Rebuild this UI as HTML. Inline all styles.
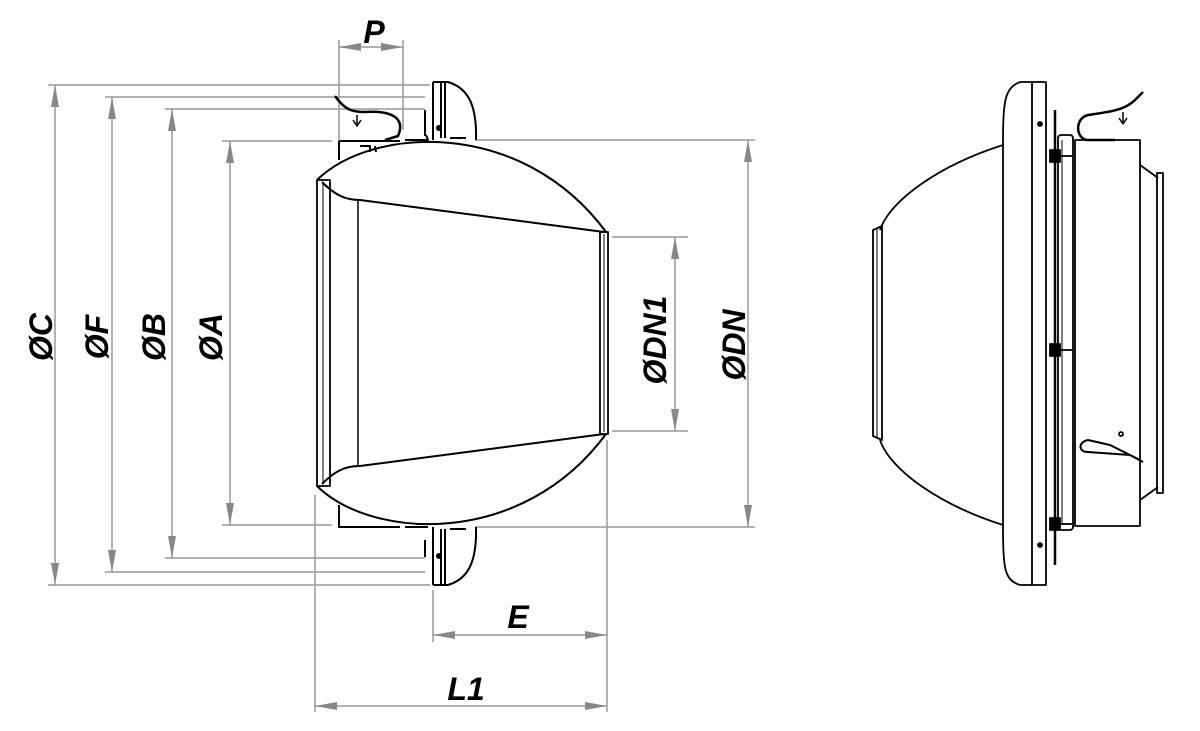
<!DOCTYPE html>
<html><head><meta charset="utf-8"><style>
html,body{margin:0;padding:0;background:#fff;width:1200px;height:731px;overflow:hidden}
svg{display:block}
text{font-family:"Liberation Sans",sans-serif;font-style:italic;font-weight:bold;fill:#000}
</style></head><body>
<svg width="1200" height="731" viewBox="0 0 1200 731" xmlns="http://www.w3.org/2000/svg">
<defs>
<marker id="a" viewBox="0 0 22 8" refX="22" refY="4" markerWidth="22" markerHeight="8" markerUnits="userSpaceOnUse" orient="auto-start-reverse"><path d="M0,0 L22,4 L0,8 Z" fill="#888"/></marker>
</defs>
<g stroke="#999" stroke-width="1.5" fill="none">
<line x1="48" y1="85" x2="430" y2="85"/><line x1="48" y1="585" x2="430" y2="585"/>
<line x1="105" y1="97" x2="425" y2="97"/><line x1="105" y1="572" x2="425" y2="572"/>
<line x1="165" y1="109" x2="425" y2="109"/><line x1="165" y1="558" x2="425" y2="558"/>
<line x1="222" y1="141" x2="332" y2="141"/><line x1="222" y1="525" x2="332" y2="525"/>
<line x1="475" y1="140" x2="755" y2="140"/><line x1="475" y1="527" x2="755" y2="527"/>
<line x1="612" y1="237" x2="688" y2="237"/><line x1="612" y1="431" x2="688" y2="431"/>
<line x1="339" y1="40" x2="339" y2="142"/><line x1="403" y1="40" x2="403" y2="130"/>
<line x1="315" y1="495" x2="315" y2="712"/><line x1="607" y1="440" x2="607" y2="712"/>
<line x1="433" y1="590" x2="433" y2="642"/>
<line x1="55" y1="85" x2="55" y2="585" marker-start="url(#a)" marker-end="url(#a)"/>
<line x1="112" y1="97" x2="112" y2="572" marker-start="url(#a)" marker-end="url(#a)"/>
<line x1="172" y1="109" x2="172" y2="558" marker-start="url(#a)" marker-end="url(#a)"/>
<line x1="230" y1="141" x2="230" y2="525" marker-start="url(#a)" marker-end="url(#a)"/>
<line x1="675" y1="237" x2="675" y2="431" marker-start="url(#a)" marker-end="url(#a)"/>
<line x1="748" y1="140" x2="748" y2="527" marker-start="url(#a)" marker-end="url(#a)"/>
<line x1="339" y1="47" x2="403" y2="47" marker-start="url(#a)" marker-end="url(#a)"/>
<line x1="433" y1="635" x2="607" y2="635" marker-start="url(#a)" marker-end="url(#a)"/>
<line x1="315" y1="706" x2="607" y2="706" marker-start="url(#a)" marker-end="url(#a)"/>
</g>
<g font-size="32">
<text transform="translate(52,337) rotate(-90)" text-anchor="middle">ØC</text>
<text transform="translate(108,337) rotate(-90)" text-anchor="middle">ØF</text>
<text transform="translate(165,337) rotate(-90)" text-anchor="middle">ØB</text>
<text transform="translate(222,337) rotate(-90)" text-anchor="middle">ØA</text>
<text transform="translate(666,340) rotate(-90)" text-anchor="middle">ØDN1</text>
<text transform="translate(745,345) rotate(-90)" text-anchor="middle">ØDN</text>
<text x="374" y="43" text-anchor="middle">P</text>
<text x="518" y="628" text-anchor="middle">E</text>
<text x="466" y="700" text-anchor="middle">L1</text>
</g>
<g stroke="#000" stroke-width="2" fill="none" stroke-linejoin="round">
<path d="M317,180 C372,126 522,118 606,232"/>
<path d="M317,486 C372,540 522,548 606,434"/>
<rect x="317" y="180" width="13" height="306" stroke-width="1.8"/>
<line x1="323" y1="183" x2="323" y2="483" stroke-width="1"/>
<line x1="358" y1="200" x2="358" y2="466" stroke-width="1.5"/>
<path d="M322,182 C335,195 345,200 360,200 L604,232"/>
<path d="M322,484 C335,471 345,466 360,466 L604,434"/>
<rect x="600" y="232" width="8" height="202" stroke-width="1.8"/>
<line x1="604" y1="234" x2="604" y2="432" stroke-width="1"/>
<path d="M433,82 L433,140 M433,82 L448,82 C468,88 477,105 476,140 M441,82 L441,138 M445,82 L445,138"/>
<path d="M405,140 L428,140 L426,135 M450,138 L466,138"/>
<line x1="425" y1="110" x2="425" y2="136"/>
<circle cx="439" cy="128" r="2" fill="#000"/>
<path d="M339,141 L339,160 M339,141 L400,141"/>
<path d="M360,146 L370,146 L370,152 M375,146 L376,152"/>
<path d="M335,96 C345,110 352,112 365,112 C395,110 405,120 398,136 L385,140" stroke-width="2.5"/>
<path d="M357,115 L357,124 M353,120 L357,126 L361,120" stroke-width="1.5"/>
<path d="M433,585 L433,527 M433,585 L448,585 C468,579 477,562 476,527 M441,585 L441,529 M445,585 L445,529"/>
<path d="M405,527 L428,527 M450,529 L466,529"/>
<line x1="425" y1="540" x2="425" y2="557"/>
<circle cx="439" cy="556" r="2" fill="#000"/>
<path d="M339,505 L339,527 L400,527"/>
</g>
<g stroke="#000" stroke-width="1.8" fill="none" stroke-linejoin="round">
<path d="M1003,145 C940,165 890,200 880,230"/>
<path d="M1003,525 C940,505 890,470 880,440"/>
<path d="M873,230 L882,226 L882,440 L873,436 Z"/>
<line x1="877" y1="229" x2="877" y2="438" stroke-width="1"/>
<path d="M1032,82 L1020,82 C1005,88 1003,100 1003,140 L1003,530 C1003,570 1005,580 1020,585 L1032,585"/>
<rect x="1032" y="82" width="14" height="503"/>
<circle cx="1040" cy="124" r="2" fill="#000"/>
<circle cx="1040" cy="545" r="2" fill="#000"/>
<line x1="1055" y1="110" x2="1055" y2="565" stroke-width="2.5"/>
<rect x="1058" y="135" width="15" height="395" rx="3"/>
<line x1="1062" y1="140" x2="1062" y2="525" stroke-width="1"/>
<rect x="1050" y="150" width="10" height="12" fill="#000"/><line x1="1060" y1="156" x2="1072" y2="156"/>
<rect x="1050" y="344" width="10" height="12" fill="#000"/><line x1="1060" y1="350" x2="1072" y2="350"/>
<rect x="1050" y="518" width="10" height="12" fill="#000"/><line x1="1060" y1="524" x2="1072" y2="524"/>
<rect x="1075" y="140" width="65" height="386"/>
<path d="M1140,165 L1158,178 M1140,500 L1158,487"/>
<rect x="1157" y="173" width="6" height="320"/>
<path d="M1115,140 L1087,140 C1075,138 1075,118 1088,115 C1110,112 1125,110 1135,100 L1143,92" stroke-width="2.5"/>
<path d="M1123,112 L1123,122 M1119,118 L1123,124 L1127,118" stroke-width="1.5"/>
<path d="M1088,440 C1078,442 1078,452 1088,452 L1130,455 L1143,462 M1088,440 L1110,445 L1140,460" stroke-width="2"/>
<circle cx="1121" cy="434" r="2"/>
</g>
</svg>
</body></html>
